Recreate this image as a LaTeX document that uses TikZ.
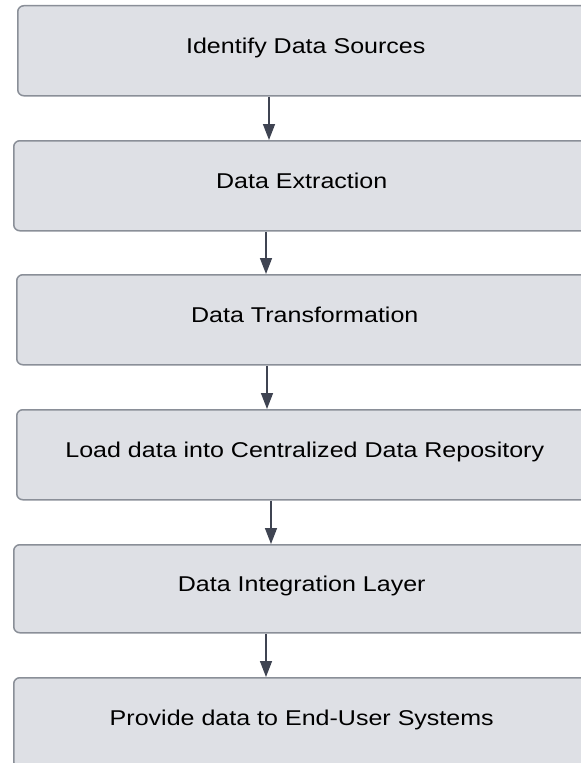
\documentclass[tikz,border=0pt]{standalone}
\usepackage{fontspec}
\setmainfont{Liberation Sans}[FakeStretch=1.17]
\usetikzlibrary{arrows.meta}
\definecolor{boxfill}{HTML}{DEE0E5}
\definecolor{boxline}{HTML}{8A8F98}
\definecolor{arrowc}{HTML}{3F4452}
\tikzset{
  stepbox/.style={draw=boxline, fill=boxfill, line width=1.5bp, rounded corners=6bp,
    anchor=north west, minimum width=576bp, minimum height=90bp, inner sep=0pt,
    text height=15.3bp, text depth=10bp,
    font=\fontsize{21.4bp}{25bp}\selectfont, text=black},
  flow/.style={draw=arrowc, line width=1.5bp, -{Triangle[width=12bp,length=16bp]}}
}
\begin{document}
\begin{tikzpicture}[x=1bp,y=-1bp]
\useasboundingbox (0,0) rectangle (581,763);
\clip (0,0) rectangle (581,763);
\node[stepbox] (b1) at (17,5) {Identify Data Sources};
\node[stepbox] (b2) at (13,140) {Data Extraction};
\node[stepbox] (b3) at (16,274) {Data Transformation};
\node[stepbox] (b4) at (16,409) {Load data into Centralized Data Repository};
\node[stepbox, minimum height=88bp] (b5) at (13,544) {Data Integration Layer};
\node[stepbox] (b6) at (13,677) {Provide data to End-User Systems};
\coordinate (x1) at (269,0);
\coordinate (x2) at (266,0);
\coordinate (x3) at (267,0);
\coordinate (x4) at (271,0);
\coordinate (x5) at (266,0);
\draw[flow] (b1.south -| x1) -- (b2.north -| x1);
\draw[flow] (b2.south -| x2) -- (b3.north -| x2);
\draw[flow] (b3.south -| x3) -- (b4.north -| x3);
\draw[flow] (b4.south -| x4) -- (b5.north -| x4);
\draw[flow] (b5.south -| x5) -- (b6.north -| x5);
\end{tikzpicture}
\end{document}
